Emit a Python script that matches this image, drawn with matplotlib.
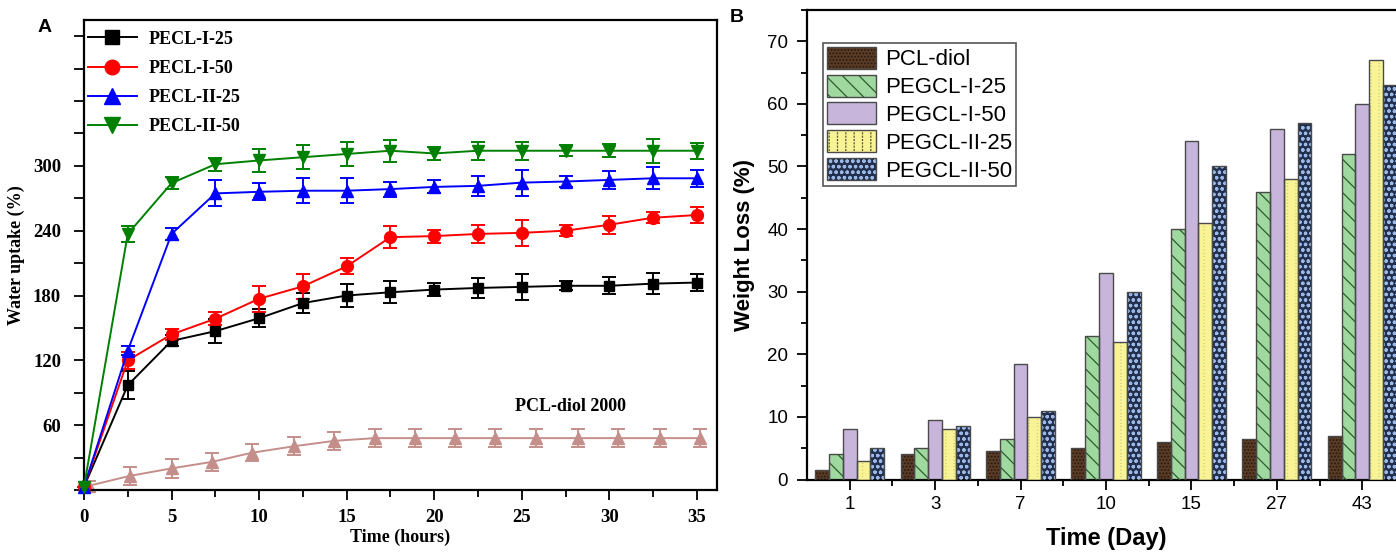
import matplotlib
matplotlib.use('Agg')
import matplotlib.pyplot as plt
from matplotlib.ticker import MultipleLocator, FixedLocator
from matplotlib.patches import Patch
from matplotlib.lines import Line2D
from matplotlib.legend_handler import HandlerTuple

# ---------------- Panel A data ----------------
hours = [0, 2.5, 5, 7.5, 10, 12.5, 15, 17.5, 20, 22.5, 25, 27.5, 30, 32.5, 35]
pecl_i_25 = [3, 97, 138, 147, 159, 173, 180, 183, 185.5, 187, 188, 189, 189, 191, 192]
pecl_i_25_err = [0, 13, 5, 11, 8.5, 9.5, 11, 10, 6, 9, 12, 4, 8, 10, 8]
pecl_i_50 = [3, 120, 144, 158.5, 177, 188.5, 207, 234, 235, 237, 238, 240, 245.5, 252, 254.5]
pecl_i_50_err = [0, 8, 5, 6, 12, 11.5, 7.5, 10, 6, 8.5, 12, 5, 8.5, 5, 7.5]
pecl_ii_25 = [3, 129, 237, 274.5, 276, 277, 277, 278.5, 280.5, 281.5, 284.5, 285.5, 287, 288.5, 288.5]
pecl_ii_25_err = [0, 4.5, 5.5, 12, 8, 11.5, 11.5, 7, 6, 9, 12, 5.5, 8, 10, 8]
pecl_ii_50 = [3, 237, 284, 301.5, 305, 308, 311, 314, 311.5, 314, 314, 314, 314, 314, 314]
pecl_ii_50_err = [0, 7.5, 5.5, 6, 11, 11, 11, 10, 6, 8.5, 8.5, 5, 6, 11, 7.5]

pcl_hours = [0.3, 2.6, 5.0, 7.3, 9.6, 12.0, 14.3, 16.6, 18.9, 21.2, 23.5, 25.8, 28.2, 30.5, 32.9, 35.2]
pcl_diol_2000 = [4, 13, 20, 26, 34.5, 40.5, 45.5, 48, 48, 48, 48, 48, 48, 48, 48, 48]
pcl_diol_2000_err = [4, 8, 8.5, 8, 8, 8.5, 8.5, 8, 8.5, 8.5, 8.5, 8.5, 8, 8, 8, 8]

# ---------------- Panel B data ----------------
days = ['1', '3', '7', '10', '15', '27', '43']
pcl_diol = [1.5, 4, 4.5, 5, 6, 6.5, 7]
pegcl_i_25 = [4, 5, 6.5, 23, 40, 46, 52]
pegcl_i_50 = [8, 9.5, 18.5, 33, 54, 56, 60]
pegcl_ii_25 = [3, 8, 10, 22, 41, 48, 67]
pegcl_ii_50 = [5, 8.5, 11, 30, 50, 57, 63]

W, H = 1396, 555
fig = plt.figure(figsize=(W / 100, H / 100), dpi=100)
plt.rcParams['hatch.linewidth'] = 0.9

serif = 'Liberation Serif'
sans = 'Liberation Sans'

# ================= Panel A =================
axA = fig.add_axes([84 / W, 1 - 490 / H, (717 - 84) / W, (490 - 20) / H])
series = [
    ('PECL-I-25', pecl_i_25, pecl_i_25_err, 'black', 's', 7.5),
    ('PECL-I-50', pecl_i_50, pecl_i_50_err, 'red', 'o', 8.5),
    ('PECL-II-25', pecl_ii_25, pecl_ii_25_err, 'blue', '^', 9),
    ('PECL-II-50', pecl_ii_50, pecl_ii_50_err, 'green', 'v', 9),
]
handles = []
for name, vals, err, col, mk, ms in series:
    axA.errorbar(hours, vals, yerr=err, color=col, marker=mk, markersize=ms,
                 linewidth=1.4, elinewidth=1.4, capsize=5, capthick=1.4,
                 clip_on=False, zorder=3)
    handles.append(Line2D([0], [0], color=col, marker=mk, markersize=ms + 2, linewidth=1.4))

pcl_col = '#c48e8a'
axA.errorbar(pcl_hours, pcl_diol_2000, yerr=pcl_diol_2000_err, color=pcl_col, marker='^',
             markersize=9, linewidth=1.4, elinewidth=1.4, capsize=5, capthick=1.4,
             clip_on=False, zorder=2)
axA.text(27.8, 77, 'PCL-diol 2000', fontfamily=serif, fontweight='bold', fontsize=13,
         ha='center', va='center')

axA.set_xlim(0, 36.15)
axA.set_ylim(0, 435)
axA.xaxis.set_major_locator(MultipleLocator(5))
axA.xaxis.set_minor_locator(MultipleLocator(2.5))
axA.yaxis.set_major_locator(FixedLocator([60, 120, 180, 240, 300]))
axA.yaxis.set_minor_locator(FixedLocator([0, 30, 90, 150, 210, 270, 330, 360, 390, 420]))
axA.tick_params(axis='both', which='major', direction='out', length=7, width=1.3,
                labelsize=13.5, top=False, right=False)
axA.tick_params(axis='y', which='major', pad=9.5)
axA.tick_params(axis='x', which='major', pad=7)
axA.tick_params(axis='y', which='minor', direction='out', length=7, width=1.3)
axA.tick_params(axis='x', which='minor', direction='out', length=5, width=1.3)
for lab in axA.get_xticklabels() + axA.get_yticklabels():
    lab.set_fontfamily(serif)
    lab.set_fontweight('bold')
for sp in axA.spines.values():
    sp.set_linewidth(1.6)
axA.set_xlabel('Time (hours)', fontfamily=serif, fontweight='bold', fontsize=13)
axA.set_ylabel('Water uptake (%)', fontfamily=serif, fontweight='bold', fontsize=13)
axA.xaxis.set_label_coords(0.5, -0.083)
axA.yaxis.set_label_coords(-0.093, 0.5)
legA = axA.legend(handles, [s[0] for s in series], loc='upper left',
                  bbox_to_anchor=(0.0, 0.985), frameon=False,
                  prop={'family': serif, 'weight': 'bold', 'size': 13},
                  handlelength=2.75, handletextpad=0.65, labelspacing=0.68,
                  borderpad=0.2, borderaxespad=0.0)

fig.text(45 / W, 1 - 27 / H, 'A', fontfamily=sans, fontweight='bold', fontsize=14,
         ha='center', va='center')

# ================= Panel B =================
axB = fig.add_axes([807 / W, 1 - 479.5 / H, (1405 - 807) / W, (479.5 - 10) / H])
x = list(range(1, len(days) + 1))
bw = 0.162
styles = [
    ('PCL-diol', pcl_diol, '#5a3c27', '.....', '#2a1a0d'),
    ('PEGCL-I-25', pegcl_i_25, '#9fd99f', '\\\\', '#2f5a2f'),
    ('PEGCL-I-50', pegcl_i_50, '#c8b5db', '', None),
    ('PEGCL-II-25', pegcl_ii_25, '#f8f395', '||', '#5a5630'),
    ('PEGCL-II-50', pegcl_ii_50, '#22304e', 'ooo', '#9bb8e6'),
]
edge = '#4a4a4a'
has_hlw = hasattr(Patch, 'set_hatch_linewidth')

leg_handles = []
for i, (name, vals, fc, hatch, hc) in enumerate(styles):
    pos = [xi + (i - 2) * bw for xi in x]
    axB.bar(pos, vals, width=bw, color=fc, edgecolor='none', linewidth=0, zorder=2)
    parts = [Patch(facecolor=fc, edgecolor='none')]
    if hatch:
        axB.bar(pos, vals, width=bw, facecolor='none', edgecolor=hc, hatch=hatch,
                linewidth=0, zorder=3)
        parts.append(Patch(facecolor='none', edgecolor=hc, hatch=hatch, linewidth=0))
        if hatch == '||' and has_hlw:
            # break the vertical lines into dashes with thick face-coloured horizontals
            br = axB.bar(pos, vals, width=bw, facecolor='none', edgecolor=fc, hatch='-----',
                         linewidth=0, zorder=3.5)
            for p in br.patches:
                p.set_hatch_linewidth(2.2)
            lp = Patch(facecolor='none', edgecolor=fc, hatch='-----', linewidth=0)
            lp.set_hatch_linewidth(2.2)
            parts.append(lp)
    axB.bar(pos, vals, width=bw, facecolor='none', edgecolor=edge, linewidth=1.0, zorder=4)
    parts.append(Patch(facecolor='none', edgecolor=edge, linewidth=1.0))
    leg_handles.append(tuple(parts))

axB.set_xlim(0.5, len(days) + 0.5)
axB.set_ylim(0, 75)
axB.xaxis.set_major_locator(FixedLocator(x))
axB.set_xticklabels(days)
axB.xaxis.set_minor_locator(FixedLocator([xi + 0.5 for xi in x]))
axB.yaxis.set_major_locator(FixedLocator([0, 10, 20, 30, 40, 50, 60, 70]))
axB.yaxis.set_minor_locator(MultipleLocator(5))
axB.tick_params(axis='both', which='major', direction='out', length=7, width=1.3,
                labelsize=13.5, top=False, right=False)
axB.tick_params(axis='y', which='major', pad=6.5)
axB.tick_params(axis='x', which='major', pad=5)
axB.tick_params(axis='both', which='minor', direction='out', length=4, width=1.3)
for lab in axB.get_xticklabels() + axB.get_yticklabels():
    lab.set_fontfamily(sans)
for sp in axB.spines.values():
    sp.set_linewidth(1.6)
axB.set_xlabel('Time (Day)', fontfamily=sans, fontweight='bold', fontsize=17)
axB.set_ylabel('Weight Loss (%)', fontfamily=sans, fontweight='bold', fontsize=16)
axB.xaxis.set_label_coords(0.5, -0.101)
axB.yaxis.set_label_coords(-0.087, 0.5)
legB = axB.legend(leg_handles, [s[0] for s in styles], loc='upper left',
                  bbox_to_anchor=(0.027, 0.93), borderaxespad=0,
                  handler_map={tuple: HandlerTuple(ndivide=1, pad=0)},
                  prop={'family': sans, 'size': 16}, fancybox=False,
                  edgecolor='#555555', framealpha=1,
                  handlelength=2.2, handleheight=1.15, handletextpad=0.4,
                  labelspacing=0.19, borderpad=0.18)
legB.get_frame().set_linewidth(1.2)

fig.text(737 / W, 1 - 18 / H, 'B', fontfamily=sans, fontweight='bold', fontsize=14,
         ha='center', va='center')

fig.savefig('out.png', dpi=100)
